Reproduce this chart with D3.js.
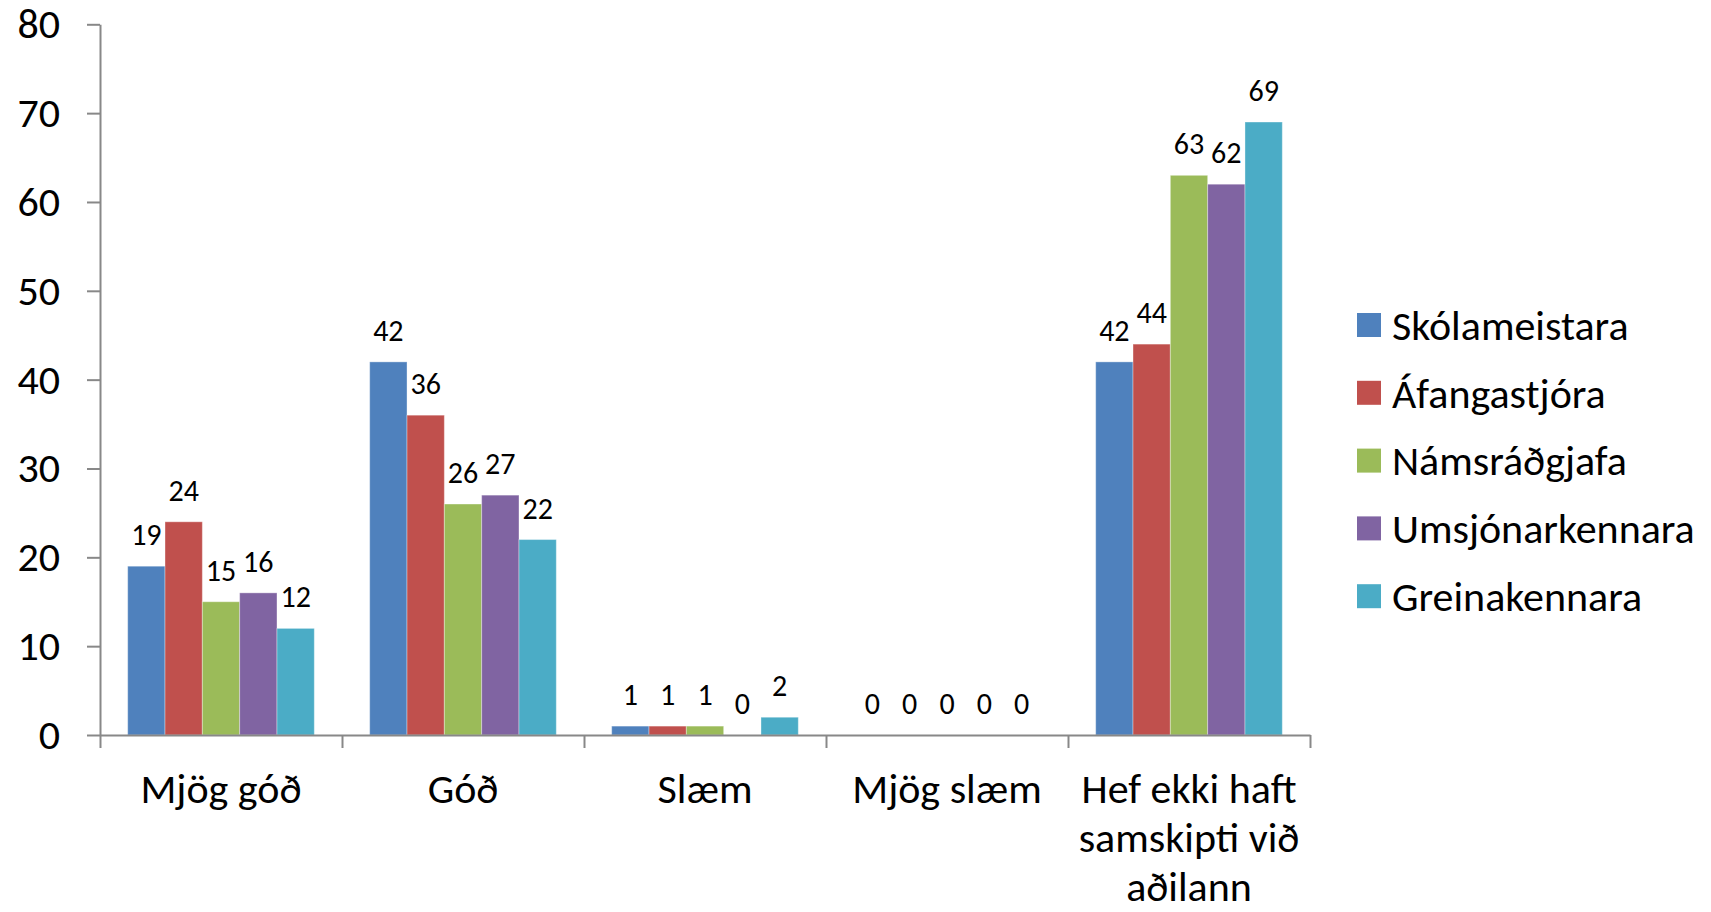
<!DOCTYPE html>
<html>
<head>
<meta charset="utf-8">
<script src="https://cdn.jsdelivr.net/npm/d3@7"></script>
<style>
  body { margin: 0; background: #fff; }
  svg { display: block; font-family: Carlito, Calibri, "Open Sans", sans-serif; }
</style>
</head>
<body>
<div id="chart"></div>
<script>
/* globals d3 */
var categories = ['Mjög góð', 'Góð', 'Slæm', 'Mjög slæm', 'Hef ekki haft samskipti við aðilann'];
var categoryLines = [['Mjög góð'], ['Góð'], ['Slæm'], ['Mjög slæm'], ['Hef ekki haft', 'samskipti við', 'aðilann']];
var seriesNames = ['Skólameistara', 'Áfangastjóra', 'Námsráðgjafa', 'Umsjónarkennara', 'Greinakennara'];
var skolameistara = [19, 42, 1, 0, 42];
var afangastjora = [24, 36, 1, 0, 44];
var namsradgjafa = [15, 26, 1, 0, 63];
var umsjonarkennara = [16, 27, 0, 0, 62];
var greinakennara = [12, 22, 2, 0, 69];
var yTicks = [0, 10, 20, 30, 40, 50, 60, 70, 80];
var colors = ['#4f81bd', '#c0504d', '#9bbb59', '#8064a2', '#4bacc6'];

var seriesValues = [skolameistara, afangastjora, namsradgjafa, umsjonarkennara, greinakennara];

var width = 1711, height = 912;
var plotLeft = 100, plotRight = 1310, plotTop = 24.3, plotBottom = 735; // plot area in px
var axisColor = '#888';
var bigFont = '42px', smallFont = '30px';

var svg = d3.select('#chart')
    .append('svg')
    .attr('width', width)
    .attr('height', height)
    .attr('viewBox', `0 0 ${width} ${height}`);

var x0 = d3.scaleBand().domain(categories).range([plotLeft, plotRight]);
var x1 = d3.scaleBand().domain(seriesNames).range([0, x0.bandwidth()]).paddingOuter(0.742);
var y = d3.scaleLinear().domain([0, 80]).range([plotBottom, plotTop]);
var xb = d3.scaleLinear().domain([0, categories.length]).range([plotLeft, plotRight]); // category boundaries

// y axis
var yAxis = svg.append('g')
    .attr('transform', `translate(${plotLeft},0)`)
    .call(d3.axisLeft(y).tickValues(yTicks).tickSize(13).tickSizeOuter(0).tickPadding(27));
yAxis.select('.domain').attr('stroke', axisColor).attr('stroke-width', 2);
yAxis.selectAll('.tick line').attr('stroke', axisColor).attr('stroke-width', 2);
yAxis.selectAll('.tick text')
    .attr('fill', '#000')
    .style('font-size', bigFont)
    .style('font-family', 'Carlito, Calibri, "Open Sans", sans-serif');

// bars
var groups = svg.append('g').selectAll('g')
    .data(categories)
    .enter().append('g')
    .attr('transform', d => `translate(${x0(d)},0)`);

groups.selectAll('rect')
    .data((c, i) => seriesNames.map((s, j) => ({ series: s, value: seriesValues[j][i], color: colors[j] })))
    .enter().append('rect')
    .attr('x', d => x1(d.series))
    .attr('width', x1.bandwidth())
    .attr('y', d => y(d.value))
    .attr('height', d => y(0) - y(d.value))
    .attr('fill', d => d.color)
    .attr('stroke', 'rgba(255,255,255,0.35)')
    .attr('stroke-width', 1);

// data labels
groups.selectAll('text')
    .data((c, i) => seriesNames.map((s, j) => ({ series: s, value: seriesValues[j][i] })))
    .enter().append('text')
    .attr('x', d => x1(d.series) + x1.bandwidth() / 2)
    .attr('y', d => y(d.value) - 21)
    .attr('text-anchor', 'middle')
    .style('font-size', smallFont)
    .text(d => d.value);

// x axis: line with ticks at category boundaries
var xAxis = svg.append('g')
    .attr('transform', `translate(0,${plotBottom})`)
    .call(d3.axisBottom(xb).ticks(categories.length).tickSize(13).tickSizeOuter(0).tickFormat(''));
xAxis.select('.domain').attr('stroke', axisColor).attr('stroke-width', 2);
xAxis.selectAll('.tick line').attr('stroke', axisColor).attr('stroke-width', 2);

// category labels
svg.append('g').selectAll('text')
    .data(categories)
    .enter().append('text')
    .attr('x', d => x0(d) + x0.bandwidth() / 2)
    .attr('y', 803)
    .attr('text-anchor', 'middle')
    .style('font-size', bigFont)
    .selectAll('tspan')
    .data((d, i) => categoryLines[i])
    .enter().append('tspan')
    .attr('x', function(){ return d3.select(this.parentNode).attr('x'); })
    .attr('dy', (d, i) => i === 0 ? 0 : 49)
    .text(d => d);

// legend
var legend = svg.append('g').selectAll('g')
    .data(seriesNames)
    .enter().append('g')
    .attr('transform', (d, i) => `translate(1357,${325 + i * 67.8})`);

legend.append('rect')
    .attr('y', -12)
    .attr('width', 24)
    .attr('height', 24)
    .attr('fill', (d, i) => colors[i]);

legend.append('text')
    .attr('x', 35)
    .attr('dy', '0.35em')
    .style('font-size', bigFont)
    .text(d => d);
</script>
</body>
</html>
